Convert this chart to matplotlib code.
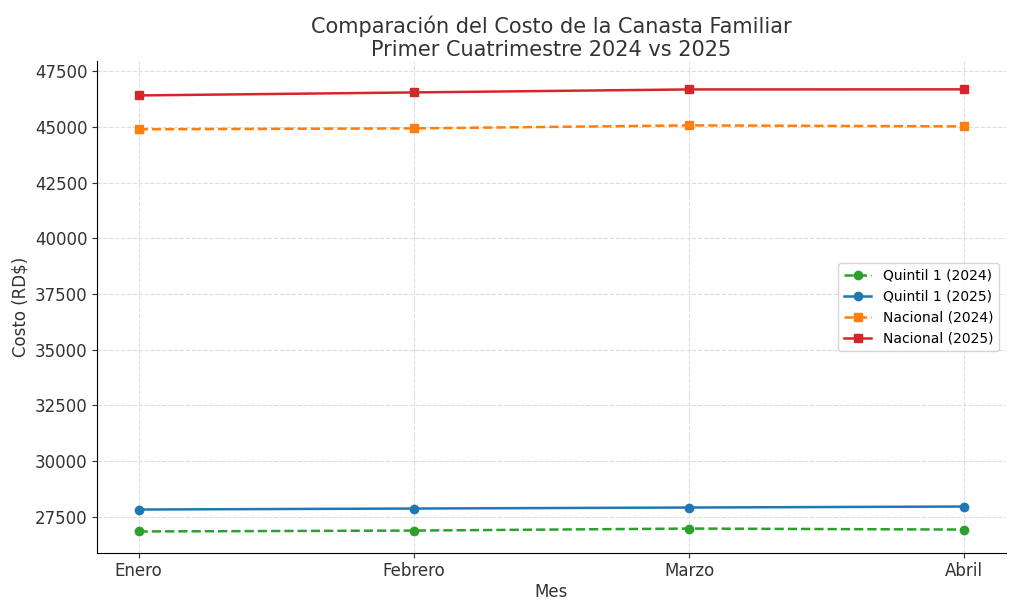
import matplotlib
matplotlib.use("Agg")
import matplotlib.pyplot as plt

meses = ["Enero", "Febrero", "Marzo", "Abril"]
q1_2024 = [26830, 26870, 26960, 26915]
q1_2025 = [27815, 27860, 27905, 27950]
nac_2024 = [44900, 44940, 45075, 45030]
nac_2025 = [46420, 46556, 46690, 46695]

fig, ax = plt.subplots(figsize=(10.24, 6.14), dpi=100)
x = range(len(meses))
ax.plot(x, q1_2024, "--o", color="#2ca02c", label="Quintil 1 (2024)", lw=1.8, ms=6)
ax.plot(x, q1_2025, "-o", color="#1f77b4", label="Quintil 1 (2025)", lw=1.8, ms=6)
ax.plot(x, nac_2024, "--s", color="#ff7f0e", label="Nacional (2024)", lw=1.8, ms=6)
ax.plot(x, nac_2025, "-s", color="#d62728", label="Nacional (2025)", lw=1.8, ms=6)
ax.set_xticks(list(x))
ax.set_xticklabels(meses)
ax.set_yticks(range(27500, 47501, 2500))
ax.set_ylim(25880, 47950)
ax.tick_params(labelsize=12, colors="#333333")
ax.set_xlabel("Mes", fontsize=12, color="#333333", labelpad=2)
ax.set_ylabel("Costo (RD$)", fontsize=12, color="#333333")
ax.set_title("Comparación del Costo de la Canasta Familiar\nPrimer Cuatrimestre 2024 vs 2025", fontsize=15, color="#333333", pad=4)
ax.grid(True, ls="--", color="#dddddd", lw=0.8)
for s in ["top", "right"]:
    ax.spines[s].set_visible(False)
ax.legend(loc="center right", fontsize=10)
fig.subplots_adjust(left=0.095, right=0.982, top=0.9, bottom=0.1)
fig.savefig("out.png")
